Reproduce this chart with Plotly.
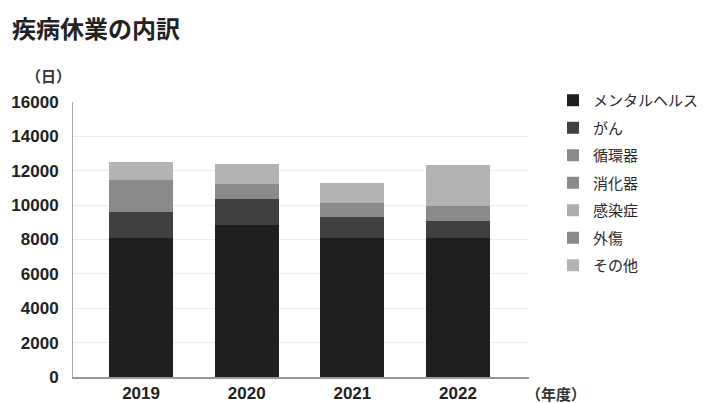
import plotly.graph_objects as go

title = "疾病休業の内訳"
years = ["2019", "2020", "2021", "2022"]
categories = ["メンタルヘルス", "がん", "循環器", "消化器", "感染症", "外傷", "その他"]
mental = [8090, 8840, 8100, 8100]
cancer = [1530, 1500, 1230, 980]
circulatory = [1840, 890, 810, 870]
digestive = [0, 0, 0, 0]
infection = [0, 0, 0, 0]
trauma = [0, 0, 0, 0]
other = [1050, 1140, 1130, 2380]
series = [mental, cancer, circulatory, digestive, infection, trauma, other]
colors = ["#1f1f1f", "#404040", "#8a8a8a", "#8a8a8a", "#adadad", "#8a8a8a", "#b3b3b3"]

FONT = "Liberation Sans, Noto Sans CJK JP, sans-serif"
JFONT = "Noto Sans CJK JP, sans-serif"

OFF = 8  # default page body margin
W, H = 717 - OFF, 403 - OFF
X0, X1, Y0, Y1 = 73, 529, 377, 102  # plot area in screen pixels


def fx(px):
    return (px - OFF) / W


def fy(py):
    return (H - (py - OFF)) / H


fig = go.Figure()
for name, vals, col in zip(categories, series, colors):
    fig.add_trace(go.Bar(
        x=years, y=vals, name=name, marker_color=col, marker_line_width=0,
        width=0.606, legendgroup=name,
    ))

fig.update_layout(
    barmode="stack",
    width=W, height=H,
    margin=dict(l=0, r=0, t=0, b=0, autoexpand=False),
    plot_bgcolor="white", paper_bgcolor="white",
    showlegend=True,
    legend=dict(
        x=fx(553), y=fy(84), xanchor="left", yanchor="top",
        traceorder="grouped", tracegroupgap=5.0,
        font=dict(family=JFONT, size=15, color="#2a2a2a"),
        itemwidth=30,
    ),
    xaxis=dict(
        type="category", range=[-0.644, 3.672], automargin=False,
        domain=[fx(X0), fx(X1)],
        showline=True, linecolor="#999", linewidth=2,
        ticks="", tickfont=dict(family=FONT, size=17, color="#222", weight="bold"),
        showgrid=False,
    ),
    yaxis=dict(
        range=[0, 16000], dtick=2000, tickformat="d", automargin=False,
        domain=[fy(Y0), fy(Y1)],
        showline=True, linecolor="#aaa", linewidth=1,
        gridcolor="#ececec", gridwidth=1, zeroline=False,
        ticks="", ticklabelstandoff=10,
        tickfont=dict(family=FONT, size=17, color="#222", weight="bold"),
    ),
)
fig.add_annotation(text="<b>" + title + "</b>", xref="paper", yref="paper",
                   x=fx(10), y=fy(27), xanchor="left", yanchor="middle",
                   showarrow=False, font=dict(family=JFONT, size=24, color="#222"))
fig.add_annotation(text="<b>（日）</b>", xref="paper", yref="paper",
                   x=fx(24), y=fy(75), xanchor="left", yanchor="middle",
                   showarrow=False, font=dict(family=JFONT, size=15, color="#333"))
fig.add_annotation(text="<b>（年度）</b>", xref="paper", yref="paper",
                   x=fx(524), y=fy(393), xanchor="left", yanchor="middle",
                   showarrow=False, font=dict(family=JFONT, size=15, color="#333"))

fig.write_html("out.html")
